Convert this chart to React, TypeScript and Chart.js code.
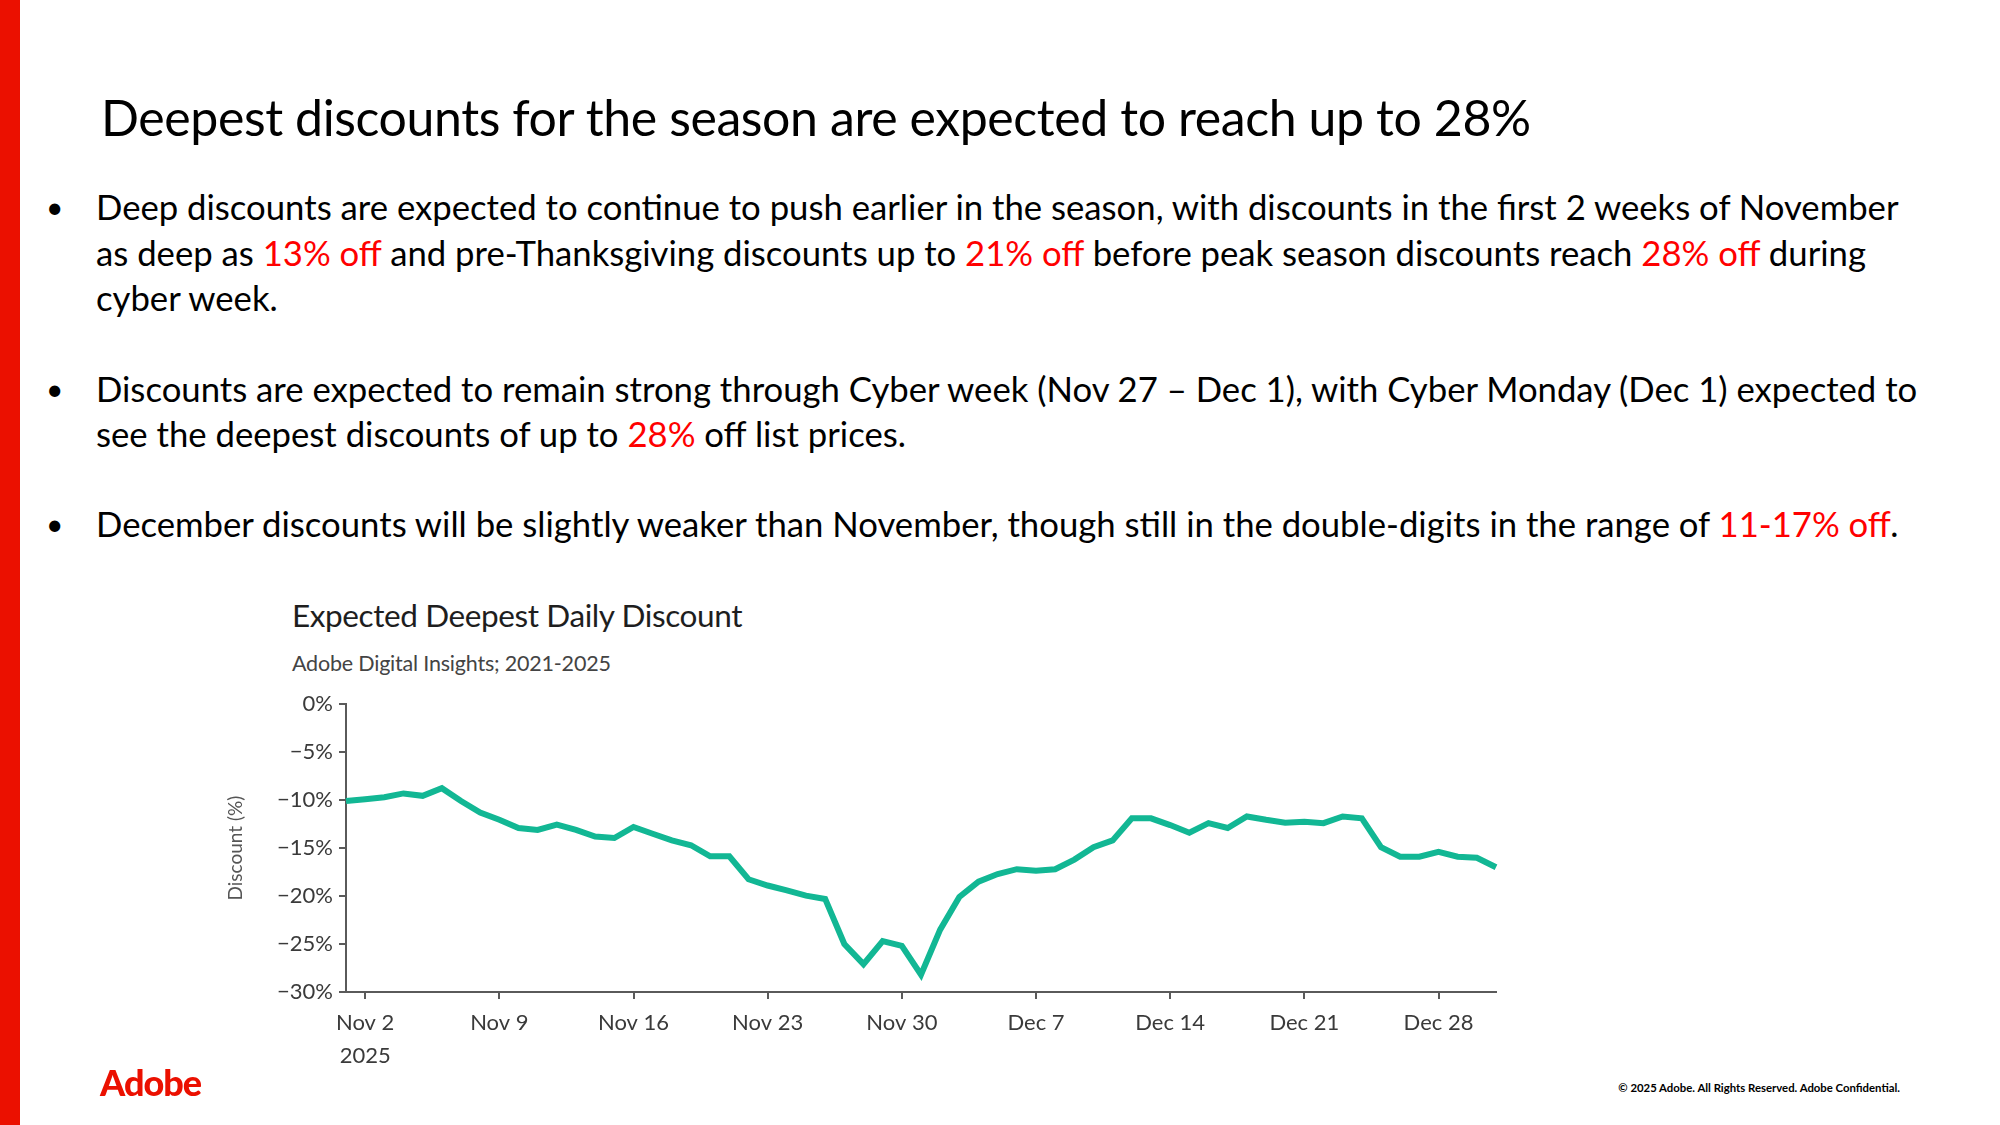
import React, { useEffect, useRef } from 'react';
import { Chart, registerables } from 'chart.js';

Chart.register(...registerables);

const dayLabels: string[] = [
  'Nov 1', 'Nov 2', 'Nov 3', 'Nov 4', 'Nov 5', 'Nov 6', 'Nov 7', 'Nov 8', 'Nov 9', 'Nov 10',
  'Nov 11', 'Nov 12', 'Nov 13', 'Nov 14', 'Nov 15', 'Nov 16', 'Nov 17', 'Nov 18', 'Nov 19', 'Nov 20',
  'Nov 21', 'Nov 22', 'Nov 23', 'Nov 24', 'Nov 25', 'Nov 26', 'Nov 27', 'Nov 28', 'Nov 29', 'Nov 30',
  'Dec 1', 'Dec 2', 'Dec 3', 'Dec 4', 'Dec 5', 'Dec 6', 'Dec 7', 'Dec 8', 'Dec 9', 'Dec 10',
  'Dec 11', 'Dec 12', 'Dec 13', 'Dec 14', 'Dec 15', 'Dec 16', 'Dec 17', 'Dec 18', 'Dec 19', 'Dec 20',
  'Dec 21', 'Dec 22', 'Dec 23', 'Dec 24', 'Dec 25', 'Dec 26', 'Dec 27', 'Dec 28', 'Dec 29', 'Dec 30',
  'Dec 31',
];

const discountValues: number[] = [
  -10.1, -9.9, -9.7, -9.3, -9.55, -8.75, -10.1, -11.3, -12.05, -12.9,
  -13.1, -12.55, -13.1, -13.8, -13.95, -12.8, -13.5, -14.2, -14.7, -15.85,
  -15.85, -18.25, -18.9, -19.4, -19.95, -20.3, -25.0, -27.1, -24.7, -25.2,
  -28.2, -23.5, -20.1, -18.5, -17.7, -17.2, -17.35, -17.2, -16.2, -14.9,
  -14.2, -11.9, -11.9, -12.6, -13.4, -12.4, -12.9, -11.7, -12.05, -12.35,
  -12.25, -12.4, -11.7, -11.9, -14.9, -15.9, -15.9, -15.4, -15.9, -16.0,
  -17.0,
];

const weekTickLabels: string[] = ['Nov 2', 'Nov 9', 'Nov 16', 'Nov 23', 'Nov 30', 'Dec 7', 'Dec 14', 'Dec 21', 'Dec 28'];
const yearLabel = '2025';
const yMin = -30;
const yMax = 0;
const yStep = 5;

const LINE_COLOR = '#12b794';
const AXIS_COLOR = '#5a5a5a';
const RED = '#ff0000';
const FONT = 'Lato, "Open Sans", sans-serif';

function DiscountChart() {
  const ref = useRef<HTMLCanvasElement | null>(null);
  useEffect(() => {
    if (!ref.current) return;
    const isWeekTick = (i: number) => weekTickLabels.includes(dayLabels[i]);
    const chart = new Chart(ref.current, {
      type: 'line',
      data: {
        labels: dayLabels,
        datasets: [
          {
            label: 'Expected Deepest Daily Discount',
            data: discountValues,
            borderColor: LINE_COLOR,
            backgroundColor: LINE_COLOR,
            borderWidth: 6,
            pointRadius: 0,
            tension: 0,
            fill: false,
          },
        ],
      },
      options: {
        animation: false,
        responsive: true,
        maintainAspectRatio: false,
        layout: { padding: { left: 0, top: 8, right: 34, bottom: 0 } },
        plugins: {
          legend: { display: false },
          tooltip: { enabled: false },
          title: { display: false },
        },
        scales: {
          x: {
            type: 'category',
            offset: false,
            afterFit: (scale: any) => {
              scale.height = 98;
            },
            grid: {
              display: true,
              drawOnChartArea: false,
              drawTicks: true,
              tickLength: 7,
              lineWidth: 2,
              color: (ctx: any) => (isWeekTick(ctx.index) ? AXIS_COLOR : 'rgba(0,0,0,0)'),
              tickColor: (ctx: any) => (isWeekTick(ctx.index) ? AXIS_COLOR : 'rgba(0,0,0,0)'),
            },
            border: { display: true, color: AXIS_COLOR, width: 2 },
            ticks: {
              autoSkip: false,
              maxRotation: 0,
              minRotation: 0,
              padding: 7,
              color: '#3a3a3a',
              font: { family: FONT, size: 22, lineHeight: 1.5 },
              callback: (_v: any, i: number) => {
                const lab = dayLabels[i];
                if (!weekTickLabels.includes(lab)) return '';
                return lab === weekTickLabels[0] ? [lab, yearLabel] : lab;
              },
            },
          },
          y: {
            min: yMin,
            max: yMax,
            afterFit: (scale: any) => {
              scale.width = 146;
            },
            grid: {
              display: true,
              drawOnChartArea: false,
              drawTicks: true,
              tickLength: 7,
              lineWidth: 2,
              color: AXIS_COLOR,
            },
            border: { display: true, color: AXIS_COLOR, width: 2 },
            ticks: {
              stepSize: yStep,
              padding: 6,
              color: '#3a3a3a',
              font: { family: FONT, size: 22 },
              callback: (v: any) => (Number(v) === 0 ? '0%' : '\u2212' + Math.abs(Number(v)) + '%'),
            },
            title: {
              display: true,
              text: 'Discount (%)',
              color: '#555555',
              font: { family: FONT, size: 19 },
              padding: { top: 24, bottom: 0 },
            },
          },
        },
      },
    } as any);
    return () => chart.destroy();
  }, []);
  return (
    <div style={{ position: 'absolute', left: 200, top: 685, width: 1330, height: 405 }}>
      <canvas ref={ref} />
    </div>
  );
}

const R = ({ children }: { children: React.ReactNode }) => <span style={{ color: RED }}>{children}</span>;

const LINE_H = 45.3;
const FIRST_LINE_CENTER = 207;
const BODY_SIZE = 34.7;

const bodyLines: { row: number; bullet: boolean; content: React.ReactNode }[] = [
  { row: 0, bullet: true, content: <>Deep discounts are expected to continue to push earlier in the season, with discounts in the first 2 weeks of November</> },
  { row: 1, bullet: false, content: <>as deep as <R>13% off</R> and pre-Thanksgiving discounts up to <R>21% off</R> before peak season discounts reach <R>28% off</R> during</> },
  { row: 2, bullet: false, content: <>cyber week.</> },
  { row: 4, bullet: true, content: <>Discounts are expected to remain strong through Cyber week (Nov 27 – Dec 1), with Cyber Monday (Dec 1) expected to</> },
  { row: 5, bullet: false, content: <>see the deepest discounts of up to <R>28%</R> off list prices.</> },
  { row: 7, bullet: true, content: <>December discounts will be slightly weaker than November, though still in the double-digits in the range of <R>11-17% off</R>.</> },
];

export default function App() {
  return (
    <div
      style={{
        position: 'fixed',
        left: 0,
        top: 0,
        width: 2000,
        height: 1125,
        background: '#ffffff',
        overflow: 'hidden',
        fontFamily: FONT,
        color: '#000',
      }}
    >
      <div style={{ position: 'absolute', left: 0, top: 0, width: 20, height: 1125, background: '#eb1000' }} />
      <div
        style={{
          position: 'absolute',
          left: 101,
          top: 87,
          fontSize: 50,
          lineHeight: '60px',
          whiteSpace: 'nowrap',
          letterSpacing: '-0.4px',
        }}
      >
        Deepest discounts for the season are expected to reach up to 28%
      </div>
      {bodyLines.map((l, i) => {
        const top = FIRST_LINE_CENTER + l.row * LINE_H - LINE_H / 2;
        return (
          <React.Fragment key={i}>
            {l.bullet && (
              <div style={{ position: 'absolute', left: 46, top, fontSize: 30, lineHeight: LINE_H + 'px' }}>•</div>
            )}
            <div
              style={{
                position: 'absolute',
                left: 96,
                top,
                fontSize: BODY_SIZE,
                lineHeight: LINE_H + 'px',
                whiteSpace: 'nowrap',
              }}
            >
              {l.content}
            </div>
          </React.Fragment>
        );
      })}
      <div
        style={{
          position: 'absolute',
          left: 292,
          top: 595,
          fontSize: 31.5,
          lineHeight: '40px',
          color: '#1e1e1e',
          whiteSpace: 'nowrap',
          letterSpacing: '-0.4px',
        }}
      >
        Expected Deepest Daily Discount
      </div>
      <div
        style={{
          position: 'absolute',
          left: 292,
          top: 648,
          fontSize: 21.5,
          lineHeight: '30px',
          color: '#444',
          whiteSpace: 'nowrap',
          letterSpacing: '-0.2px',
        }}
      >
        Adobe Digital Insights; 2021-2025
      </div>
      <DiscountChart />
      <div
        style={{
          position: 'absolute',
          left: 100,
          top: 1060,
          fontSize: 36,
          fontWeight: 900,
          lineHeight: '44px',
          color: '#eb1000',
          letterSpacing: '-1px',
        }}
      >
        Adobe
      </div>
      <div
        style={{
          position: 'absolute',
          right: 100,
          top: 1080,
          fontSize: 11.35,
          fontWeight: 700,
          lineHeight: '16px',
          whiteSpace: 'nowrap',
        }}
      >
        © 2025 Adobe. All Rights Reserved. Adobe Confidential.
      </div>
    </div>
  );
}
